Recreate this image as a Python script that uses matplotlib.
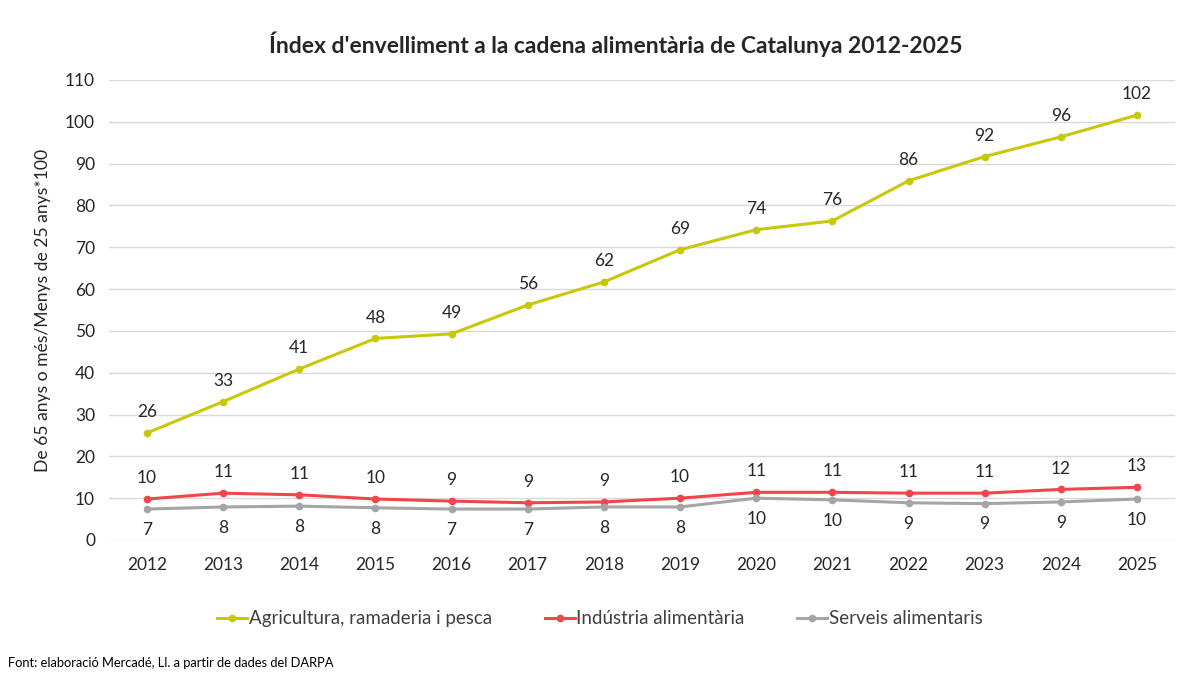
import matplotlib
matplotlib.use("Agg")
import matplotlib.pyplot as plt

years = [2012, 2013, 2014, 2015, 2016, 2017, 2018, 2019, 2020, 2021, 2022, 2023, 2024, 2025]
agri = [25.6, 33.1, 40.9, 48.2, 49.3, 56.2, 61.7, 69.4, 74.2, 76.3, 85.9, 91.7, 96.4, 101.6]
indus = [9.8, 11.2, 10.8, 9.8, 9.3, 8.9, 9.1, 10.0, 11.4, 11.4, 11.2, 11.2, 12.1, 12.6]
serv = [7.4, 7.9, 8.1, 7.7, 7.4, 7.4, 7.9, 7.9, 10.0, 9.6, 8.9, 8.7, 9.1, 9.8]

names = ["Agricultura, ramaderia i pesca", "Indústria alimentària", "Serveis alimentaris"]
colors = ["#C8C80A", "#F0464B", "#A5A5A5"]

plt.rcParams['font.family'] = ['Lato', 'DejaVu Sans']

fig = plt.figure(figsize=(12, 6.75), dpi=100)
ax = fig.add_axes([0.0908, 0.2, 0.8884, 0.6815])
x = list(range(len(years)))

series = [agri, indus, serv]
offsets = [15, 15, -15]
for vals, c, n, off in zip(series, colors, names, offsets):
    ax.plot(x, vals, color=c, lw=2.2, marker='o', ms=4.5, label=n, zorder=3)
    for xi, v in zip(x, vals):
        ax.annotate(f"{int(v + 0.5)}", (xi, v), xytext=(0, off), textcoords='offset points',
                    ha='center', va='center', fontsize=12.5, color='#262626')

ax.set_xlim(-0.5, len(years) - 0.5)
ax.set_ylim(0, 110)
ax.set_yticks(range(0, 111, 10))
ax.set_xticks(x)
ax.set_xticklabels([str(y) for y in years])
ax.tick_params(axis='both', length=0, labelsize=12.5, colors='#262626')
ax.tick_params(axis='x', pad=12)
ax.tick_params(axis='y', pad=10)
ax.grid(axis='y', color='#D9D9D9', lw=1)
ax.set_axisbelow(True)
for s in ax.spines.values():
    s.set_visible(False)
ax.set_ylabel("De 65 anys o més/Menys de 25 anys*100", fontsize=12.6, color='#262626', labelpad=10)

fig.text(0.513, 0.935, "Índex d'envelliment a la cadena alimentària de Catalunya 2012-2025",
         ha='center', va='center', fontsize=16.5, fontweight='bold', color='#262626')

fig.legend(loc='center', bbox_to_anchor=(0.5, 0.083), ncol=3, frameon=False,
           fontsize=13.5, handlelength=1.6, handletextpad=0.1, columnspacing=2.8,
           labelcolor='#404040')

fig.text(0.007, 0.018, "Font: elaboració Mercadé, Ll. a partir de dades del DARPA",
         ha='left', va='center', fontsize=9.3, color='#000000')

fig.savefig("out.png", dpi=100)
